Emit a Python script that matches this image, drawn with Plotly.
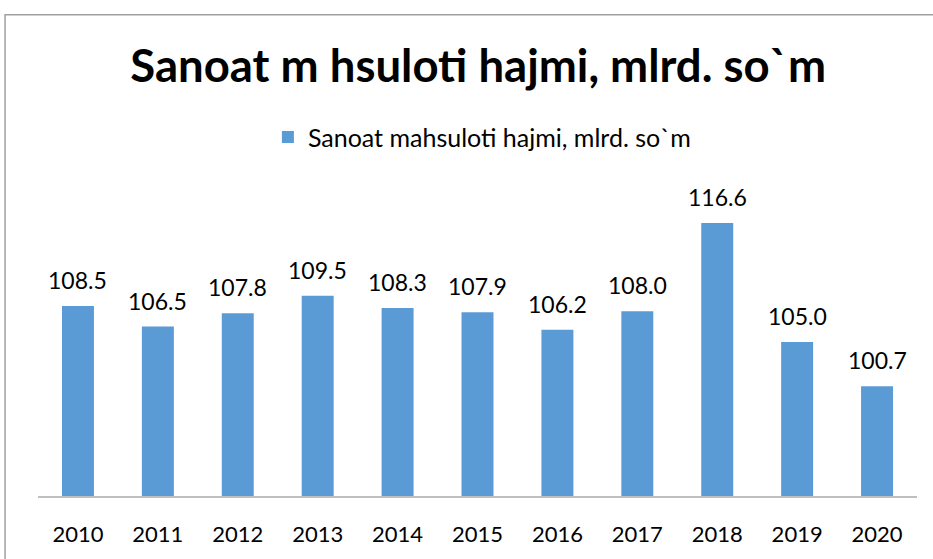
import plotly.graph_objects as go

# Dados
anos = ['2010', '2011', '2012', '2013', '2014', '2015', '2016', '2017', '2018', '2019', '2020']
hajmi = [108.5, 106.5, 107.8, 109.5, 108.3, 107.9, 106.2, 108.0, 116.6, 105.0, 100.7]
nomi = 'Sanoat mahsuloti hajmi, mlrd. so`m'
sarlavha = 'Sanoat m hsuloti hajmi, mlrd. so`m'

fig = go.Figure()
fig.add_trace(go.Bar(x=anos, y=hajmi, name=nomi, marker_color='#5B9BD5',
                     marker_line_width=0, showlegend=True))

# rótulos de dados acima das barras (posição pelo índice da categoria)
for i, v in enumerate(hajmi):
    fig.add_annotation(x=i, y=v, text=f'{v:.1f}', showarrow=False,
                       yanchor='bottom', yshift=10,
                       font=dict(family='Lato', size=23, color='#000000'))

# moldura cinza do gráfico
fig.add_shape(type='rect', xref='paper', yref='paper',
              x0=-0.0375, x1=1.03, y0=-0.3, y1=1.5627,
              line=dict(color='#A0A0A0', width=1.5), fillcolor='rgba(0,0,0,0)')

fig.update_layout(
    width=933, height=559,
    margin=dict(l=38, r=16, t=188, b=60),
    paper_bgcolor='white', plot_bgcolor='white',
    bargap=0.6,
    title=dict(text=f'<b>{sarlavha}</b>', x=0.5125, xanchor='center', y=0.882, yanchor='middle',
               font=dict(family='Lato', size=45.5, color='#000000')),
    legend=dict(orientation='h', x=0.505, xanchor='center', y=1.165, yanchor='middle',
                font=dict(family='Lato', size=25, color='#000000')),
    font=dict(family='Lato'),
)
fig.update_xaxes(type='category', range=[-0.5, len(anos) - 0.5], showline=True,
                 linecolor='#BFBFBF', linewidth=1.5,
                 showgrid=False, ticks='', ticklabelstandoff=18,
                 tickfont=dict(family='Lato', size=22, color='#000000'))
fig.update_yaxes(range=[90, 120], visible=False, showgrid=False)

# sem margem do body, para o gráfico ocupar a janela inteira
fig.write_html('out.html', config={'displayModeBar': False},
               post_script="document.body.style.margin='0';")
